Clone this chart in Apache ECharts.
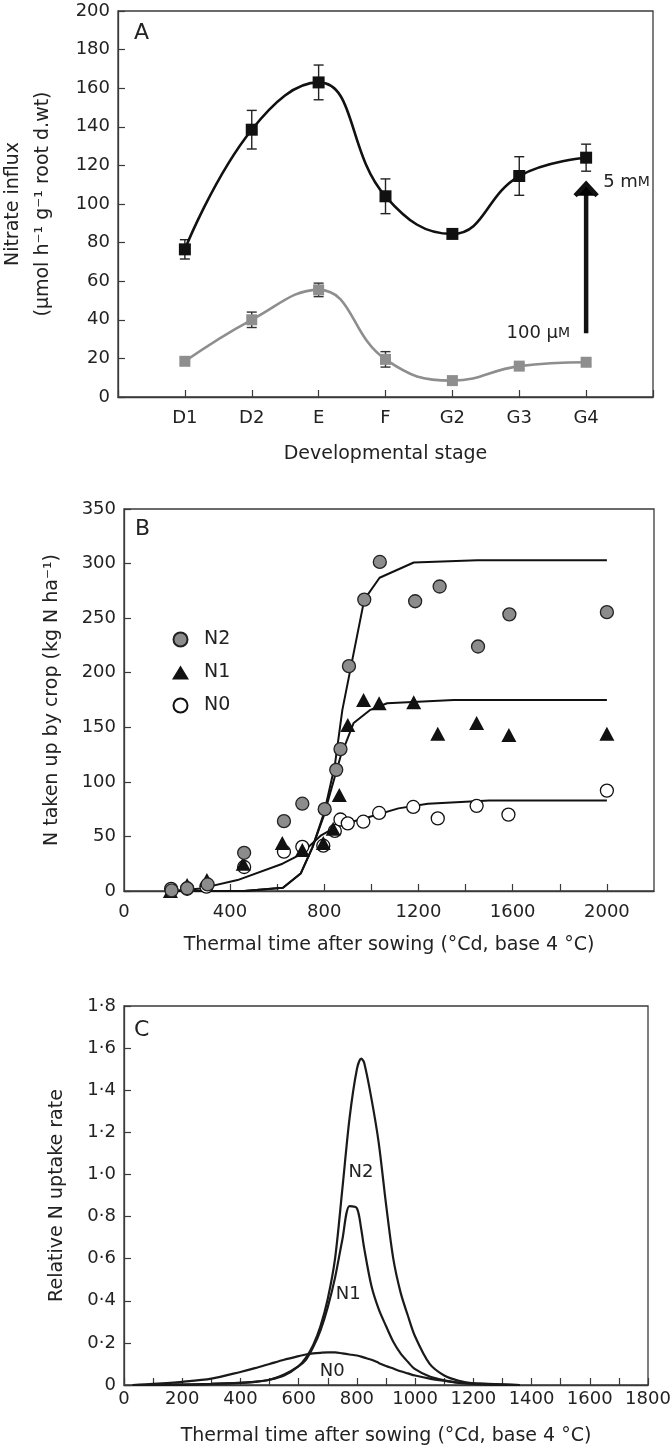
<!DOCTYPE html>
<html><head><meta charset="utf-8">
<script src="https://cdn.jsdelivr.net/npm/echarts@6/dist/echarts.min.js"></script>
<style>html,body{margin:0;padding:0;background:#fff}#c{width:672px;height:1449px}</style>
</head><body><div id="c"></div>
<script>
// ---------- Panel A ----------
const stagesA = ['D1','D2','E','F','G2','G3','G4'];
const highA = [76.5, 138.5, 163, 104, 84.5, 114.5, 124];
const highErrA = [5, 10, 9, 9, 1.5, 10, 7];
const lowA = [18.5, 40, 55.5, 19.5, 8.5, 16, 18];
const lowErrA = [1.5, 4, 3.5, 4, 1.5, 1.5, 1.5];
const arrowA = [7, 33, 111]; // at G4, from 100 µM level up to 5 mM level

// ---------- Panel B ----------
const n2X = [152,218,305,460,629,707,802,851,869,905,970,1036,1186,1290,1453,1586,2000];
const n2Y = [0.5,2.5,6,35,64,80,75,111,130,206,267,301.5,265.5,279,224,253.5,255.5];
const n1X = [147,218,302,456,622,707,796,838,864,900,967,1033,1180,1282,1447,1584,2000];
const n1Y = [0,5.5,10,25,44,37.5,44,57,88,152,175,172,173,144,154,143,144];
const n0X = [150,218,300,460,629,707,796,845,869,900,966,1033,1178,1282,1447,1582,2000];
const n0Y = [2,2,4,22,36,40.5,41.5,55,65.5,62,63.5,71.5,77,66.5,78,70,92];
const n2FitX = [150,300,460,625,700,750,800,845,877,970,1035,1180,1450,2000];
const n2FitY = [0,0,0,3,16,40,72,115,166,267,287,301,303,303];
const n1FitX = [150,300,460,625,700,750,800,823,869,925,996,1067,1350,2000];
const n1FitY = [0,0,0,3,16,40,70,88,123,154,166,172,175,175];
const n0FitX = [150,278,432,623,696,787,860,969,1115,1240,1500,2000];
const n0FitY = [0,2.4,10,25,33,51,60,66.5,75.7,80,83,83];

// ---------- Panel C ----------
const cX  = [30,100,200,300,400,450,500,550,600,625,650,675,700,725,750,775,800,815,825,850,875,900,925,950,975,1000,1050,1100,1150,1200,1300,1360];
const cN2 = [0,0,0.002,0.005,0.01,0.015,0.025,0.045,0.09,0.13,0.19,0.28,0.41,0.6,0.93,1.27,1.5,1.55,1.53,1.36,1.15,0.86,0.6,0.44,0.33,0.23,0.1,0.045,0.02,0.008,0.002,0];
const cN1 = [0,0,0.002,0.005,0.01,0.015,0.025,0.05,0.09,0.12,0.18,0.26,0.37,0.51,0.69,0.85,0.84,0.74,0.65,0.47,0.36,0.28,0.205,0.15,0.11,0.075,0.04,0.022,0.01,0.005,0,0];
const cN0 = [0,0.005,0.015,0.03,0.062,0.08,0.1,0.12,0.137,0.145,0.15,0.153,0.155,0.155,0.15,0.145,0.14,0.135,0.13,0.12,0.105,0.09,0.078,0.065,0.055,0.045,0.03,0.02,0.012,0.008,0.003,0];
const cLabelNames = ['N2','N1','N0'];
const cLabelX = [814, 770, 715];
const cLabelY = [1.01, 0.43, 0.067];

const FONT = 'DejaVu Sans';
const TXT = '#222';
const AX = '#3a3a3a';
const zip = (xs, ys) => xs.map((x, i) => [x, ys[i]]);

function axisCommon(extra) {
  return Object.assign({
    axisLine: {show: true, onZero: false, lineStyle: {color: AX, width: 1.3}},
    axisTick: {show: true, inside: true, length: 7, lineStyle: {color: AX, width: 1.2}},
    splitLine: {show: false},
    axisLabel: {color: TXT, fontSize: 18, fontFamily: FONT},
    nameLocation: 'middle',
    nameTextStyle: {color: TXT, fontSize: 19, fontFamily: FONT}
  }, extra);
}

function errRender(color) {
  return function (params, api) {
    const x = api.value(0), lo = api.value(1), hi = api.value(2);
    const a = api.coord([x, hi]), b = api.coord([x, lo]);
    const w = 5;
    const st = {stroke: color, lineWidth: 1.4};
    return {type: 'group', children: [
      {type: 'line', shape: {x1: a[0], y1: a[1], x2: b[0], y2: b[1]}, style: st},
      {type: 'line', shape: {x1: a[0] - w, y1: a[1], x2: a[0] + w, y2: a[1]}, style: st},
      {type: 'line', shape: {x1: b[0] - w, y1: b[1], x2: b[0] + w, y2: b[1]}, style: st}
    ]};
  };
}

const gridBase = {show: true, borderColor: AX, borderWidth: 1.3, backgroundColor: 'transparent',
  containLabel: false, outerBoundsMode: 'none'};

const chart = echarts.init(document.getElementById('c'));
const option = {
  backgroundColor: '#fff',
  animation: false,
  grid: [
    Object.assign({left: 118, top: 11, right: 19, height: 386}, gridBase),
    Object.assign({left: 124, top: 509, right: 18, height: 382}, gridBase),
    Object.assign({left: 124, top: 1006, right: 24, height: 379}, gridBase)
  ],
  xAxis: [
    axisCommon({gridIndex: 0, type: 'value', min: 0, max: 8, interval: 1,
      axisLabel: {color: TXT, fontSize: 18, fontFamily: FONT, margin: 12,
        formatter: v => (v >= 1 && v <= 7) ? stagesA[v - 1] : ''},
      name: 'Developmental stage', nameGap: 48}),
    axisCommon({gridIndex: 1, type: 'value', min: -50, max: 2200,
      axisTick: {show: true, inside: true, length: 7, lineStyle: {color: AX, width: 1.2},
        customValues: [200,400,600,800,1000,1200,1400,1600,1800,2000]},
      axisLabel: {color: TXT, fontSize: 18, fontFamily: FONT, margin: 12,
        customValues: [-50,400,800,1200,1600,2000],
        formatter: v => v < 0 ? '0' : String(v)},
      name: 'Thermal time after sowing (°Cd, base 4 °C)', nameGap: 45}),
    axisCommon({gridIndex: 2, type: 'value', min: 0, max: 1800, interval: 100,
      axisLabel: {color: TXT, fontSize: 18, fontFamily: FONT, margin: 5,
        formatter: v => (Math.round(v) % 200 === 0) ? String(Math.round(v)) : ''},
      name: 'Thermal time after sowing (°Cd, base 4 °C)', nameGap: 42})
  ],
  yAxis: [
    axisCommon({gridIndex: 0, type: 'value', min: 0, max: 200, interval: 20,
      axisLabel: {color: TXT, fontSize: 18, fontFamily: FONT, margin: 8},
      name: 'Nitrate influx\n(µmol h⁻¹ g⁻¹ root d.wt)', nameGap: 60,
      nameTextStyle: {color: TXT, fontSize: 19, fontFamily: FONT, lineHeight: 30}}),
    axisCommon({gridIndex: 1, type: 'value', min: 0, max: 350, interval: 50,
      axisLabel: {color: TXT, fontSize: 18, fontFamily: FONT, margin: 8},
      name: 'N taken up by crop (kg N ha⁻¹)', nameGap: 62}),
    axisCommon({gridIndex: 2, type: 'value', min: 0, max: 1.8, interval: 0.2,
      axisLabel: {color: TXT, fontSize: 18, fontFamily: FONT, margin: 8,
        formatter: v => v === 0 ? '0' : v.toFixed(1).replace('.', '·')},
      name: 'Relative N uptake rate', nameGap: 57})
  ],
  legend: {
    data: ['N2', 'N1', 'N0'], orient: 'vertical', left: 167, top: 625,
    itemWidth: 17, itemHeight: 14, itemGap: 14, selectedMode: false,
    textStyle: {color: TXT, fontSize: 19, fontFamily: FONT, padding: [0, 0, 0, 10]}
  },
  graphic: [
    {type: 'text', left: 134, top: 22, style: {text: 'A', fontSize: 22, fontFamily: FONT, fill: TXT}},
    {type: 'text', left: 135, top: 518, style: {text: 'B', fontSize: 22, fontFamily: FONT, fill: TXT}},
    {type: 'text', left: 134, top: 1019, style: {text: 'C', fontSize: 22, fontFamily: FONT, fill: TXT}}
  ],
  series: [
    // Panel A
    {type: 'custom', xAxisIndex: 0, yAxisIndex: 0, renderItem: errRender('#222'),
      encode: {x: 0, y: [1, 2]},
      data: highA.map((v, i) => [i + 1, v - highErrA[i], v + highErrA[i]]), z: 2},
    {type: 'custom', xAxisIndex: 0, yAxisIndex: 0, renderItem: errRender('#333'),
      encode: {x: 0, y: [1, 2]},
      data: lowA.map((v, i) => [i + 1, v - lowErrA[i], v + lowErrA[i]]), z: 2},
    {name: '5 mM', type: 'line', xAxisIndex: 0, yAxisIndex: 0, smooth: 0.45,
      data: highA.map((v, i) => [i + 1, v]), symbol: 'rect', symbolSize: 12,
      lineStyle: {color: '#111', width: 2.6}, itemStyle: {color: '#111'}, z: 3},
    {name: '100 µM', type: 'line', xAxisIndex: 0, yAxisIndex: 0, smooth: 0.45,
      data: lowA.map((v, i) => [i + 1, v]), symbol: 'rect', symbolSize: 11,
      lineStyle: {color: '#8e8e8e', width: 2.6}, itemStyle: {color: '#8e8e8e'}, z: 3},
    {type: 'custom', xAxisIndex: 0, yAxisIndex: 0, encode: {x: 0, y: [1, 2]},
      data: [arrowA],
      renderItem: function (params, api) {
        const p0 = api.coord([api.value(0), api.value(1)]);
        const p1 = api.coord([api.value(0), api.value(2)]);
        const x = p0[0];
        const st = {stroke: '#111', lineWidth: 4.5, lineJoin: 'miter', lineCap: 'butt'};
        return {type: 'group', children: [
          {type: 'line', shape: {x1: x, y1: p0[1], x2: x, y2: p1[1] + 3}, style: st},
          {type: 'polyline', shape: {points: [[x - 11, p1[1] + 13], [x, p1[1] + 1], [x + 11, p1[1] + 13]]}, style: st},
          {type: 'text', x: x + 17, y: p1[1], style: {text: '5 m{s|M}', fontSize: 18, fontFamily: FONT, fill: TXT,
            textAlign: 'left', textVerticalAlign: 'middle', rich: {s: {fontSize: 14, fontFamily: FONT, fill: TXT}}}},
          {type: 'text', x: x - 16, y: p0[1], style: {text: '100 µ{s|M}', fontSize: 18, fontFamily: FONT, fill: TXT,
            textAlign: 'right', textVerticalAlign: 'middle', rich: {s: {fontSize: 14, fontFamily: FONT, fill: TXT}}}}
        ]};
      }, z: 4},
    // Panel B fits
    {type: 'line', xAxisIndex: 1, yAxisIndex: 1, data: zip(n2FitX, n2FitY), showSymbol: false,
      lineStyle: {color: '#111', width: 2}, z: 2},
    {type: 'line', xAxisIndex: 1, yAxisIndex: 1, data: zip(n1FitX, n1FitY), showSymbol: false,
      lineStyle: {color: '#111', width: 2}, z: 2},
    {type: 'line', xAxisIndex: 1, yAxisIndex: 1, data: zip(n0FitX, n0FitY), showSymbol: false,
      lineStyle: {color: '#111', width: 2}, z: 2},
    // Panel B points
    {name: 'N0', type: 'scatter', xAxisIndex: 1, yAxisIndex: 1, data: zip(n0X, n0Y),
      symbol: 'circle', symbolSize: 13, itemStyle: {color: '#fff', borderColor: '#111', borderWidth: 1.3, opacity: 1}, z: 3},
    {name: 'N1', type: 'scatter', xAxisIndex: 1, yAxisIndex: 1, data: zip(n1X, n1Y),
      symbol: 'triangle', symbolSize: [15, 14], itemStyle: {color: '#111', opacity: 1}, z: 4},
    {name: 'N2', type: 'scatter', xAxisIndex: 1, yAxisIndex: 1, data: zip(n2X, n2Y),
      symbol: 'circle', symbolSize: 13, itemStyle: {color: '#8c8c8c', borderColor: '#222', borderWidth: 1.3, opacity: 1}, z: 5},
    // Panel C curves
    {name: 'N2 rate', type: 'line', xAxisIndex: 2, yAxisIndex: 2, data: zip(cX, cN2), showSymbol: false,
      smooth: 0.3, lineStyle: {color: '#1a1a1a', width: 2.2}},
    {name: 'N1 rate', type: 'line', xAxisIndex: 2, yAxisIndex: 2, data: zip(cX, cN1), showSymbol: false,
      smooth: 0.3, lineStyle: {color: '#1a1a1a', width: 2.2}},
    {name: 'N0 rate', type: 'line', xAxisIndex: 2, yAxisIndex: 2, data: zip(cX, cN0), showSymbol: false,
      smooth: 0.3, lineStyle: {color: '#1a1a1a', width: 2.2}},
    {type: 'custom', xAxisIndex: 2, yAxisIndex: 2, encode: {x: 0, y: 1},
      data: cLabelX.map((x, i) => [x, cLabelY[i], i]),
      renderItem: function (params, api) {
        const p = api.coord([api.value(0), api.value(1)]);
        return {type: 'text', x: p[0], y: p[1], style: {text: cLabelNames[api.value(2)], fontSize: 18,
          fontFamily: FONT, fill: TXT, textAlign: 'center', textVerticalAlign: 'middle'}};
      }, z: 5}
  ]
};
chart.setOption(option);
</script>
</body></html>
